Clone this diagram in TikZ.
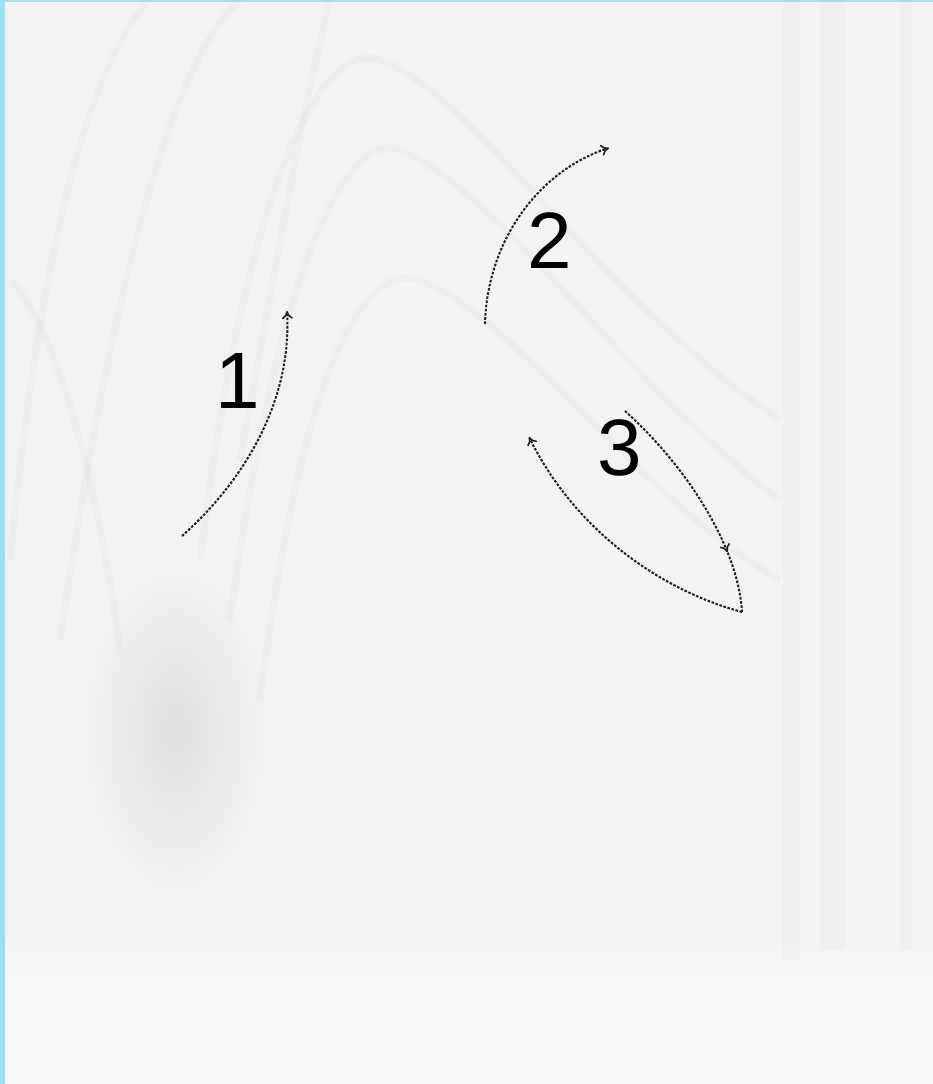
\documentclass[tikz,border=0pt]{standalone}
\usepackage{fontspec}
\setmainfont{Liberation Sans}
\usetikzlibrary{arrows.meta,decorations.markings}
\definecolor{bgc}{HTML}{F3F3F3}
\definecolor{bgb}{HTML}{FAFAFA}
\definecolor{smudge}{HTML}{E0E0E0}
\definecolor{edgec}{HTML}{9EE0EE}
\definecolor{topc}{HTML}{ABDDE3}
\definecolor{inkc}{HTML}{222222}
\tikzset{
  streak/.style={line width=7pt, draw=black, draw opacity=0.018},
  vband/.style={fill=black, fill opacity=0.018, draw=none},
  tip/.style={-{To[length=8pt,width=11pt,line width=1.6pt]}},
  flowplain/.style={draw=inkc, line width=2pt, dash pattern=on 2.6pt off 1.6pt},
  flow/.style={flowplain, tip},
  num/.style={font=\fontsize{80}{80}\selectfont, text=black, inner sep=0pt},
}
\begin{document}
\begin{tikzpicture}[x=1pt,y=-1pt]
\useasboundingbox (0,0) rectangle (933,1084);
% background
\fill[bgc] (0,0) rectangle (933,1084);
\fill[bgb] (0,985) rectangle (933,1084);
\shade[top color=bgc, bottom color=bgb] (0,930) rectangle (933,990);
% soft smudge
\begin{scope}
\clip (60,560) rectangle (300,930);
\shade[inner color=smudge, outer color=bgc] (175,730) ellipse (95 and 170);
\end{scope}
% faint texture
\draw[streak] (10,560) .. controls (40,250) and (90,60) .. (150,0);
\draw[streak] (60,640) .. controls (110,300) and (170,60) .. (240,0);
\draw[streak] (200,560) .. controls (250,150) and (330,40) .. (380,60) .. controls (470,90) and (600,300) .. (780,420);
\draw[streak] (230,620) .. controls (280,250) and (350,130) .. (400,150) .. controls (500,190) and (620,380) .. (780,500);
\draw[streak] (260,700) .. controls (300,380) and (360,260) .. (420,280) .. controls (520,320) and (640,500) .. (780,580);
\draw[streak] (330,0) .. controls (300,120) and (270,300) .. (240,460);
\draw[streak] (10,280) .. controls (60,330) and (100,500) .. (120,650);
\fill[vband] (783,0) rectangle (800,960);
\fill[vband] (820,0) rectangle (845,950);
\fill[vband] (900,0) rectangle (912,950);
% borders
\fill[edgec] (0,0) rectangle (5,1084);
\fill[topc] (5,0) rectangle (933,2);
% labels
\node[num] (n1) at (238,381) {1};
\node[num] (n2) at (550,241) {2};
\node[num] (n3) at (620,448) {3};
% arrow endpoints
\coordinate (a1s) at (182,536);
\coordinate (a1e) at (287,311);
\coordinate (a2s) at (485,324);
\coordinate (a2e) at (609,148);
\coordinate (a3s) at (625,411);
\coordinate (a3m) at (742,612);
\coordinate (a3e) at (529,437);
% arrows
\draw[flow] (a1s) .. controls (245,480) and (292,400) .. (a1e);
\draw[flow] (a2s) .. controls (487,240) and (540,170) .. (a2e);
\draw[flowplain, postaction={decorate}, decoration={markings,
   mark=at position 0.74 with {\arrow{To[length=8pt,width=11pt,line width=1.6pt]}}}]
   (a3s) .. controls (685,465) and (738,545) .. (a3m);
\draw[flow] (a3m) .. controls (660,590) and (575,530) .. (a3e);
\end{tikzpicture}
\end{document}
